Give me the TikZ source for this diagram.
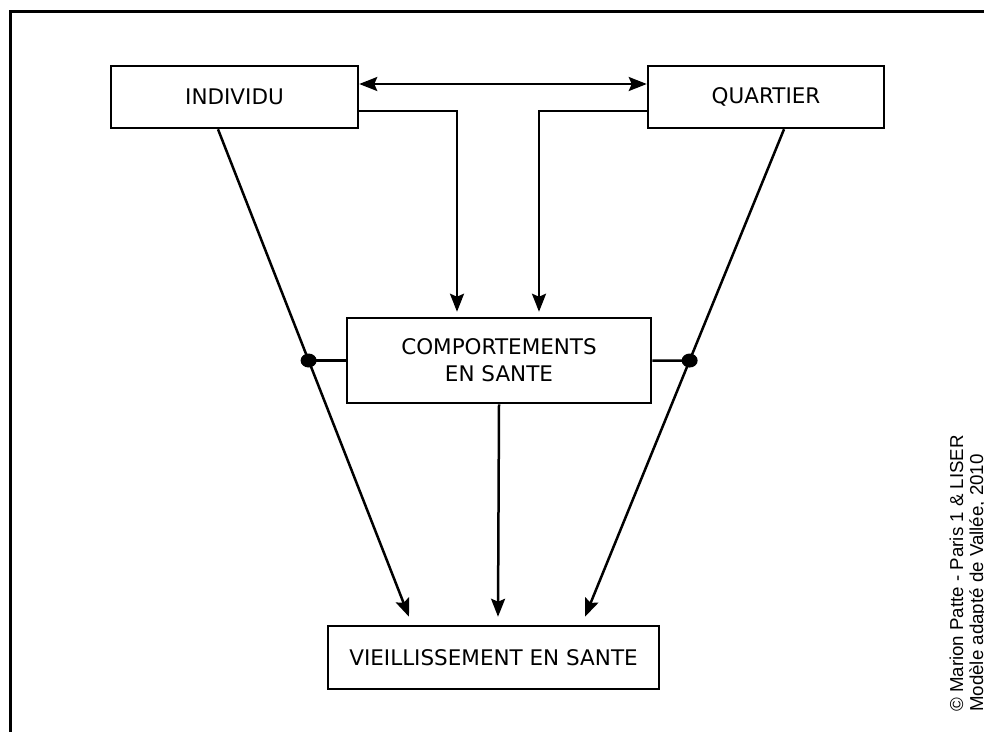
\documentclass[tikz,border=0pt]{standalone}
\usepackage{fontspec}
\setmainfont{DejaVu Sans}
\newfontfamily\credfont{Liberation Sans}
\usetikzlibrary{arrows.meta,calc,shapes.geometric}
\tikzset{
  box/.style={draw, line width=2.5pt, inner sep=0pt, align=center,
    font=\fontsize{21.5}{27}\selectfont},
  arr/.style={line width=2.5pt, -{Stealth[length=18pt,width=14pt,inset=3pt]}},
  darr/.style={line width=2.5pt, {Stealth[length=18pt,width=14pt,inset=3pt]}-{Stealth[length=18pt,width=14pt,inset=3pt]}},
  link/.style={line width=2.5pt},
  dot/.style={ellipse, fill=black, inner sep=0pt, minimum width=16pt, minimum height=14pt},
  cred/.style={rotate=90, anchor=base west, inner sep=0pt,
    font=\credfont\fontsize{18.7}{22}\selectfont},
  frame/.style={line width=3pt}
}
\begin{document}
\begin{tikzpicture}[x=1pt,y=-1pt]
\useasboundingbox (0,0) rectangle (984,731);
\draw[frame] (10,745) -- (10,11) -- (1000,11);
\node[box, minimum width=247pt, minimum height=62pt] (ind) at (234.5,97) {INDIVIDU};
\node[box, minimum width=236pt, minimum height=62pt] (qua) at (766,97) {QUARTIER};
\node[box, minimum width=304pt, minimum height=85pt] (comp) at (499,360.5) {COMPORTEMENTS\\EN SANTE};
\node[box, minimum width=331pt, minimum height=63pt] (vie) at (493.5,657.5) {VIEILLISSEMENT EN SANTE};
% top double arrow
\draw[darr] ($(ind.east)+(0,-13)$) -- ($(qua.west)+(0,-13)$);
% elbows into comportements
\draw[arr] ($(ind.east)+(0,14)$) -| ($(comp.north)+(-42,-5)$);
\draw[arr] ($(qua.west)+(0,14)$) -| ($(comp.north)+(40,-5)$);
% diagonals
\coordinate (ia) at ($(ind.south)+(-16.5,0)$);
\coordinate (ib) at ($(vie.north)+(-84.5,-8)$);
\coordinate (qa) at ($(qua.south)+(18,0)$);
\coordinate (qb) at ($(vie.north)+(91.5,-8)$);
\draw[arr] (ia) -- (ib);
\draw[arr] (qa) -- (qb);
\draw[arr] (comp.south) -- ($(vie.north)+(4.5,-8)$);
% moderation links
\node[dot] (dl) at (intersection of ia--ib and comp.west--{$(comp.west)+(-10,0)$}) {};
\node[dot] (dr) at (intersection of qa--qb and comp.east--{$(comp.east)+(10,0)$}) {};
\draw[link] (comp.west) -- (dl.center);
\draw[link] (comp.east) -- (dr.center);
% credits
\node[cred] (c1) at (963,712) {© Marion Patte - Paris 1 \& LISER};
\node[cred] (c2) at (983,712) {Modèle adapté de Vallée, 2010};
\end{tikzpicture}
\end{document}
